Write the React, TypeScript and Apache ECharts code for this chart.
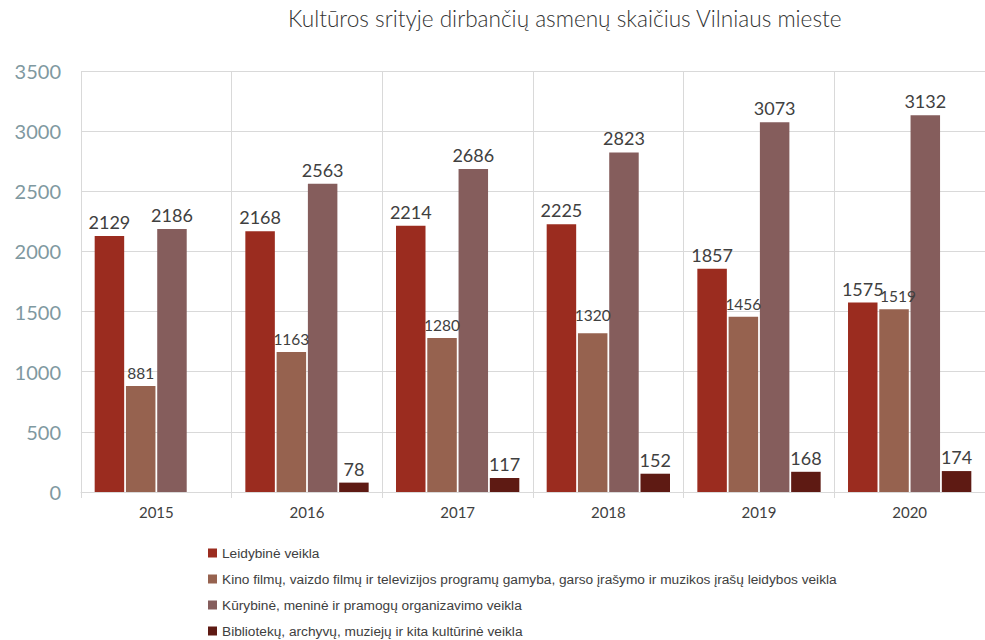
import React, { useEffect, useRef } from "react";
import * as echarts from "echarts";

const categories = ["2015", "2016", "2017", "2018", "2019", "2020"];
const seriesNames = [
  "Leidybinė veikla",
  "Kino filmų, vaizdo filmų ir televizijos programų gamyba, garso įrašymo ir muzikos įrašų leidybos veikla",
  "Kūrybinė, meninė ir pramogų organizavimo veikla",
  "Bibliotekų, archyvų, muziejų ir kita kultūrinė veikla",
];
const leidybine = [2129, 2168, 2214, 2225, 1857, 1575];
const kino = [881, 1163, 1280, 1320, 1456, 1519];
const kurybine = [2186, 2563, 2686, 2823, 3073, 3132];
const bibliotekos = [null, 78, 117, 152, 168, 174];
const colors = ["#9b2c1f", "#96624f", "#855d5c", "#5e1a13"];
const yTicks = { min: 0, max: 3500, interval: 500 };

export default function App() {
  const ref = useRef<HTMLDivElement>(null);
  useEffect(() => {
    if (!ref.current) return;
    const chart = echarts.init(ref.current, null, { renderer: "svg" });
    const dataSets = [leidybine, kino, kurybine, bibliotekos];
    const labelFont = "Lato, 'Open Sans', sans-serif";
    const labelOffsets: Record<string, number[]> = { "1-3": [0, -5], "1-5": [4, 0] };
    chart.setOption({
      animation: false,
      backgroundColor: "#ffffff",
      title: {
        text: "Kultūros srityje dirbančių asmenų skaičius Vilniaus mieste",
        left: 288,
        top: 7,
        padding: 0,
        textStyle: { fontFamily: labelFont, fontSize: 22.6, fontWeight: 300, color: "#333333" },
      },
      legend: {
        orient: "vertical",
        left: 208,
        top: 546,
        height: 130,
        padding: 0,
        itemWidth: 9,
        itemHeight: 9,
        itemGap: 12,
        icon: "rect",
        data: seriesNames,
        textStyle: { fontFamily: "'Liberation Sans', Arial, sans-serif", fontSize: 13.7, color: "#404040", lineHeight: 13 },
      },
      grid: { left: 81, right: -8, top: 71, bottom: 148, containLabel: false },
      xAxis: {
        type: "category",
        data: categories,
        boundaryGap: true,
        axisLine: { show: true, lineStyle: { color: "#d9d9d9", width: 1 } },
        axisTick: { show: true, length: 6, lineStyle: { color: "#d9d9d9" } },
        splitLine: { show: true, lineStyle: { color: "#d9d9d9", width: 1 } },
        axisLabel: { fontFamily: labelFont, fontSize: 15, color: "#404040", margin: 12 },
      },
      yAxis: {
        type: "value",
        min: yTicks.min,
        max: yTicks.max,
        interval: yTicks.interval,
        axisLine: { show: false },
        axisTick: { show: false },
        splitLine: { show: true, lineStyle: { color: "#d9d9d9", width: 1 } },
        axisLabel: {
          fontFamily: labelFont,
          fontSize: 20,
          color: "#7f99a1",
          margin: 20,
          formatter: (v: number) => String(v),
        },
      },
      series: dataSets.map((d, i) => ({
        name: seriesNames[i],
        type: "bar",
        data: d.map((v, j) => {
          const off = labelOffsets[i + "-" + j];
          return off ? { value: v, label: { offset: off } } : v;
        }),
        barWidth: 29.5,
        barGap: "6%",
        itemStyle: { color: colors[i] },
        label: {
          show: true,
          position: "top",
          distance: 5,
          fontFamily: labelFont,
          fontSize: i === 1 ? 15.5 : 18,
          color: "#404040",
        },
      })),
    });
    return () => chart.dispose();
  }, []);
  return <div ref={ref} style={{ width: 985, height: 640, position: "absolute", left: 0, top: 0 }} />;
}
